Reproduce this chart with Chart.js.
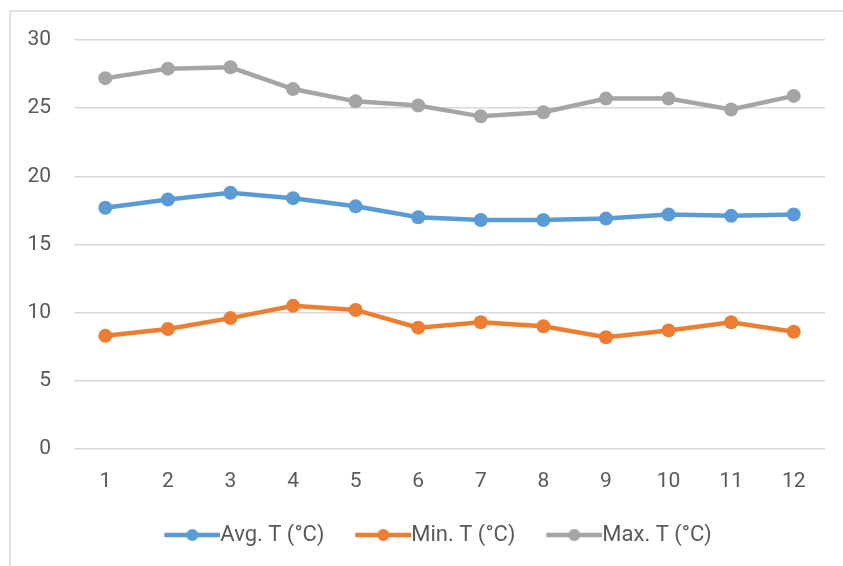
<!DOCTYPE html>
<html>
<head>
<meta charset="utf-8">
<script src="https://cdn.jsdelivr.net/npm/chart.js@4"></script>
<style>
  html, body { margin: 0; padding: 0; background: #fff; }
  #wrap { position: relative; width: 843px; height: 566px; }
</style>
</head>
<body>
<div id="wrap"><canvas id="chart" width="843" height="566"></canvas></div>
<script>
const months = ['1', '2', '3', '4', '5', '6', '7', '8', '9', '10', '11', '12'];
const avgT = [17.7, 18.3, 18.8, 18.4, 17.8, 17.0, 16.8, 16.8, 16.9, 17.2, 17.1, 17.2];
const minT = [8.3, 8.8, 9.6, 10.5, 10.2, 8.9, 9.3, 9.0, 8.2, 8.7, 9.3, 8.6];
const maxT = [27.2, 27.9, 28.0, 26.4, 25.5, 25.2, 24.4, 24.7, 25.7, 25.7, 24.9, 25.9];
const seriesNames = ['Avg. T (°C)', 'Min. T (°C)', 'Max. T (°C)'];
const seriesColors = ['#5b9bd5', '#ed7d31', '#a5a5a5'];

Chart.defaults.font.family = 'Roboto, "Open Sans", sans-serif';
Chart.defaults.font.size = 21;
Chart.defaults.color = '#595959';

// legend marker: line with a dot, drawn at the right end of a wider
// transparent canvas so the gap between legend items sits inside it
const MARK_W = 98;
function makeMarker(color) {
    const c = document.createElement('canvas');
    c.width = MARK_W;
    c.height = 16;
    const g = c.getContext('2d');
    g.strokeStyle = color;
    g.lineWidth = 4.5;
    g.beginPath();
    g.moveTo(MARK_W - 56, 8);
    g.lineTo(MARK_W, 8);
    g.stroke();
    g.fillStyle = color;
    g.beginPath();
    g.arc(MARK_W - 28, 8, 6, 0, Math.PI * 2);
    g.fill();
    return c;
}
const markers = seriesColors.map(makeMarker);

// light frame (left and top edges)
const framePlugin = {
    id: 'frame',
    beforeDraw(chart) {
        const ctx = chart.ctx;
        ctx.save();
        ctx.fillStyle = '#fff';
        ctx.fillRect(0, 0, chart.width, chart.height);
        ctx.strokeStyle = '#d9d9d9';
        ctx.lineWidth = 1.5;
        ctx.beginPath();
        ctx.moveTo(10, chart.height);
        ctx.lineTo(10, 11);
        ctx.lineTo(chart.width, 11);
        ctx.stroke();
        ctx.restore();
    }
};

function makeSeries(label, data, color) {
    return {
        label: label,
        data: data,
        borderColor: color,
        backgroundColor: color,
        borderWidth: 4.5,
        pointRadius: 7,
        pointHoverRadius: 7,
        pointBackgroundColor: color,
        pointBorderWidth: 0,
        tension: 0
    };
}

new Chart(document.getElementById('chart'), {
    type: 'line',
    data: {
        labels: months,
        datasets: [
            makeSeries(seriesNames[0], avgT, seriesColors[0]),
            makeSeries(seriesNames[1], minT, seriesColors[1]),
            makeSeries(seriesNames[2], maxT, seriesColors[2])
        ]
    },
    options: {
        responsive: false,
        animation: false,
        layout: {
            padding: { left: 20, right: 18, top: 40, bottom: 10 }
        },
        scales: {
            x: {
                offset: true,
                grid: { display: false, drawTicks: false },
                border: { display: false },
                ticks: { padding: 20, maxRotation: 0 },
                afterFit(axis) { axis.height = 75; }
            },
            y: {
                min: 0,
                max: 30,
                grid: { color: '#d9d9d9', lineWidth: 1.5, drawTicks: false },
                border: { display: false },
                ticks: { stepSize: 5, padding: 23 },
                afterFit(axis) { axis.width = 54; }
            }
        },
        plugins: {
            tooltip: { enabled: false },
            legend: {
                position: 'bottom',
                labels: {
                    font: { size: 22 },
                    usePointStyle: true,
                    pointStyleWidth: MARK_W - 22,
                    padding: 0,
                    generateLabels(chart) {
                        const items = Chart.defaults.plugins.legend.labels.generateLabels(chart);
                        items.forEach((item, i) => { item.pointStyle = markers[i]; });
                        return items;
                    }
                }
            }
        }
    },
    plugins: [framePlugin]
});
</script>
</body>
</html>
